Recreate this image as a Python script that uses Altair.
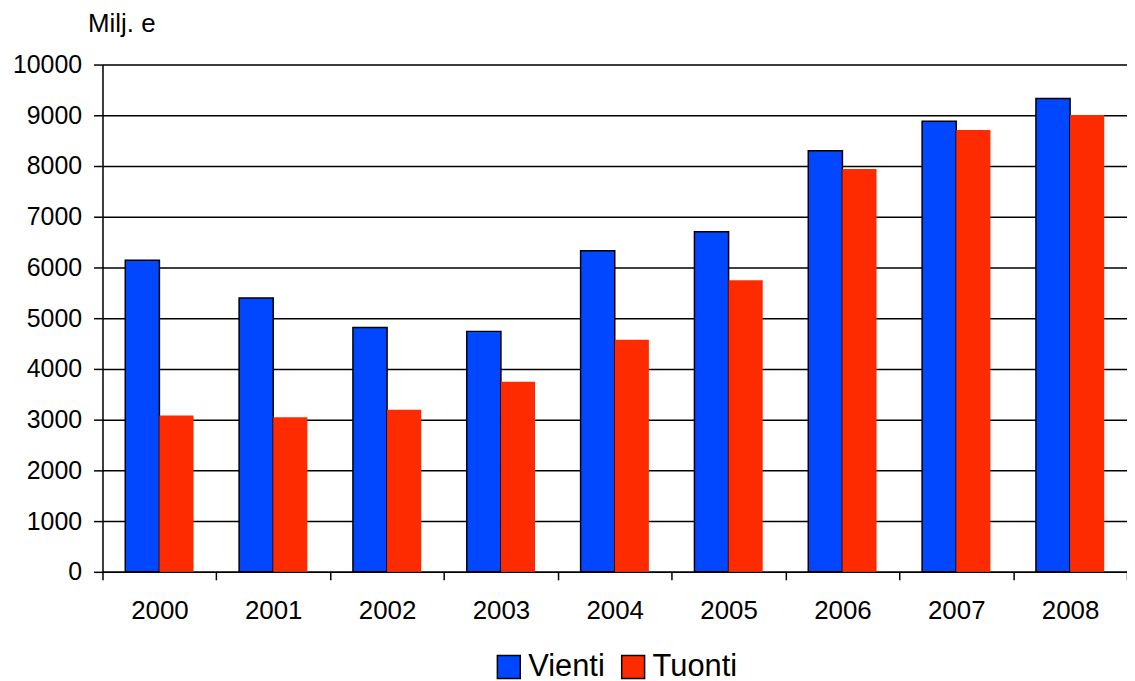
import altair as alt
import pandas as pd

years = ["2000", "2001", "2002", "2003", "2004", "2005", "2006", "2007", "2008"]
vienti = [6140, 5400, 4815, 4740, 6330, 6705, 8300, 8880, 9330]
tuonti = [3080, 3045, 3195, 3745, 4575, 5750, 7940, 8710, 9005]
series = ["Vienti", "Tuonti"]
colors = ["#0047FF", "#FF2B00"]

rows = []
for i, y in enumerate(years):
    rows.append({"year": y, "series": "Vienti", "value": vienti[i]})
    rows.append({"year": y, "series": "Tuonti", "value": tuonti[i]})
df = pd.DataFrame(rows)

FONT = "Liberation Sans"

chart = alt.Chart(df).mark_bar().encode(
    x=alt.X("year:N", sort=years,
            scale=alt.Scale(paddingInner=0, paddingOuter=0),
            axis=alt.Axis(title=None, labelAngle=0, labelFontSize=26, labelFont=FONT,
                          labelColor="black", domainColor="black", domainWidth=1.5,
                          tickColor="black", tickSize=8, tickWidth=1.5, tickBand="extent",
                          labelPadding=18, grid=False)),
    xOffset=alt.XOffset("series:N", sort=series,
                        scale=alt.Scale(paddingInner=0, paddingOuter=0.667)),
    y=alt.Y("value:Q", scale=alt.Scale(domain=[0, 10000], nice=False),
            axis=alt.Axis(values=list(range(0, 10001, 1000)), format="d",
                          labelFontSize=25, labelFont=FONT, labelColor="black",
                          domainColor="black", domainWidth=1.5,
                          tickColor="black", tickSize=9, tickWidth=1.5, labelPadding=12,
                          grid=True, gridColor="black", gridWidth=1.5,
                          title="Milj. e", titleAngle=0, titleAlign="left",
                          titleBaseline="middle", titleX=-15, titleY=-41,
                          titleFontSize=26, titleFont=FONT, titleFontWeight="normal",
                          titleColor="black")),
    color=alt.Color("series:N", sort=series,
                    scale=alt.Scale(domain=series, range=colors),
                    legend=alt.Legend(title=None, orient="none", direction="horizontal",
                                      legendX=393, legendY=590, symbolType="square",
                                      symbolSize=530, symbolStrokeColor="black",
                                      symbolStrokeWidth=1.5, symbolOpacity=1,
                                      labelFontSize=31, labelFont=FONT, labelColor="black",
                                      labelOffset=4, columnPadding=13, padding=0)),
    stroke=alt.condition(alt.datum.series == "Vienti", alt.value("black"), alt.value(None)),
    strokeWidth=alt.value(1.5),
).properties(
    width=1030, height=510,
    autosize=alt.AutoSizeParams(type="none"),
    padding={"left": 95, "top": 55, "right": 0, "bottom": 125},
).configure_view(stroke=None).configure(background="white")

chart.save("out.html", embed_options={"renderer": "svg", "actions": False})
